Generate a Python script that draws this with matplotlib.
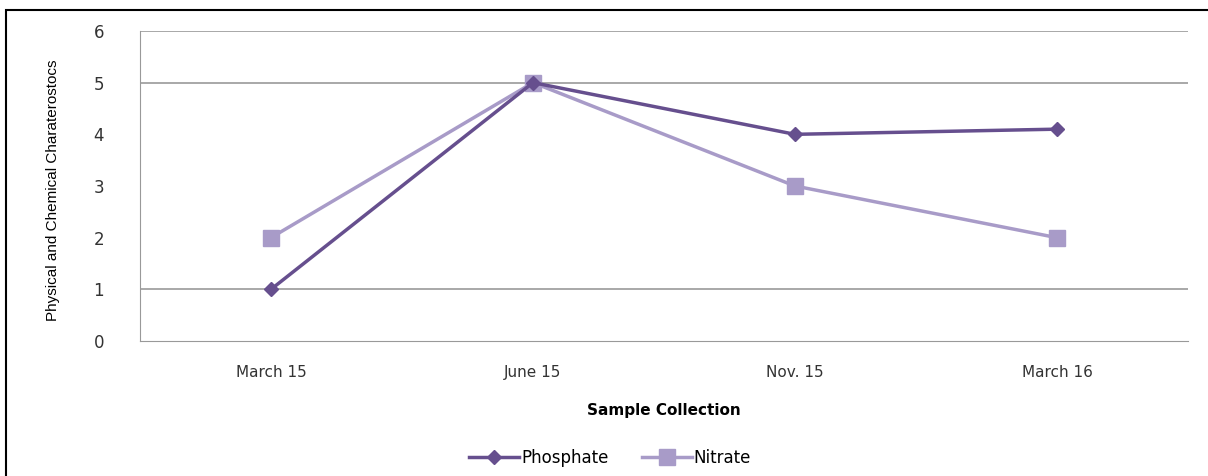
import matplotlib.pyplot as plt
import matplotlib.patches as patches

categories = ["March 15", "June 15", "Nov. 15", "March 16"]
phosphate = [1, 5, 4, 4.1]
nitrate = [2, 5, 3, 2]

dark = "#664f8e"
light = "#a89bc8"

fig = plt.figure(figsize=(12.08, 4.76), dpi=100)
ax = fig.add_axes([0.1159, 0.2836, 0.8675, 0.6513])

x = range(len(categories))
ax.plot(x, nitrate, color=light, lw=2.5, marker="s", ms=12, label="Nitrate", zorder=3)
ax.plot(x, phosphate, color=dark, lw=2.5, marker="D", ms=7, label="Phosphate", zorder=4)

ax.set_xlim(-0.5, 3.5)
ax.set_ylim(0, 6)
ax.set_xticks(list(x))
ax.set_xticklabels(categories, fontsize=11, color="#333333")
ax.set_yticks(range(7))
ax.tick_params(axis="y", labelsize=12, length=0, pad=26, colors="#333333")
ax.tick_params(axis="x", length=0, pad=17)

for v in [1, 5, 6]:
    ax.axhline(v, color="#999999", lw=1.2, zorder=1)

for s in ["top", "right"]:
    ax.spines[s].set_visible(False)
ax.spines["left"].set_color("#999999")
ax.spines["bottom"].set_color("#999999")

ax.set_xlabel("Sample Collection", fontsize=11, fontweight="bold", labelpad=17)
fig.text(0.044, 0.60, "Physical and Chemical Charaterostocs", rotation=90,
         ha="center", va="center", fontsize=11,
         family=["Liberation Sans", "DejaVu Sans"])

h, l = ax.get_legend_handles_labels()
fig.legend(h[::-1], l[::-1], loc="center", bbox_to_anchor=(0.505, 0.038), ncol=2,
           frameon=False, fontsize=12, handlelength=3, columnspacing=2, handletextpad=0.1)

fig.patches.append(patches.Rectangle((6 / 1208, -0.01), 1.1, 1 - 10 / 476 + 0.01,
                                     transform=fig.transFigure, fill=False,
                                     edgecolor="black", lw=1.5))

fig.savefig("out.png", dpi=100)
